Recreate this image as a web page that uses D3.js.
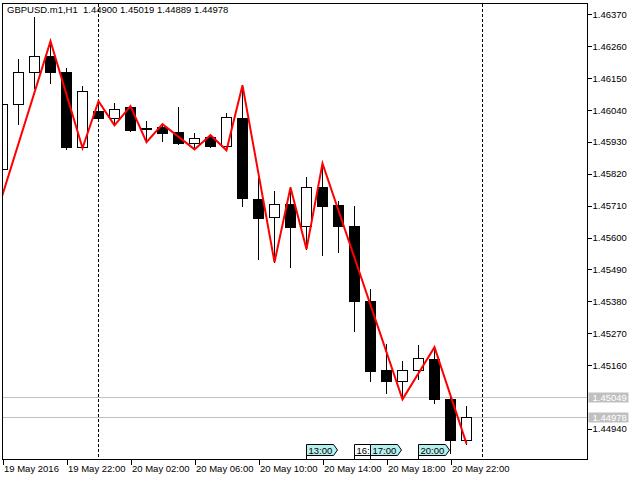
<!DOCTYPE html>
<html>
<head>
    <meta charset="utf-8">
    <title>GBPUSD.m1,H1</title>
    <style type="text/css">
    body { margin: 0; background: #fff; }
    svg text { font-family: "Liberation Sans", Arial, sans-serif; }
    </style>
</head>
<body>

    <script src="https://d3js.org/d3.v7.min.js"></script>
    <script>
      // hourly candles, 19 May 18:00 .. 20 May 23:00
      var hours = ["2016-05-19 18:00", "2016-05-19 19:00", "2016-05-19 20:00", "2016-05-19 21:00", "2016-05-19 22:00",
                   "2016-05-19 23:00", "2016-05-20 00:00", "2016-05-20 01:00", "2016-05-20 02:00", "2016-05-20 03:00",
                   "2016-05-20 04:00", "2016-05-20 05:00", "2016-05-20 06:00", "2016-05-20 07:00", "2016-05-20 08:00",
                   "2016-05-20 09:00", "2016-05-20 10:00", "2016-05-20 11:00", "2016-05-20 12:00", "2016-05-20 13:00",
                   "2016-05-20 14:00", "2016-05-20 15:00", "2016-05-20 16:00", "2016-05-20 17:00", "2016-05-20 18:00",
                   "2016-05-20 19:00", "2016-05-20 20:00", "2016-05-20 21:00", "2016-05-20 22:00", "2016-05-20 23:00"];
      var open  = [1.45836, 1.46060, 1.46170, 1.46225, 1.46170, 1.45911, 1.46036, 1.46011, 1.46049, 1.45977,
                   1.45980, 1.45963, 1.45925, 1.45946, 1.45915, 1.46011, 1.45732, 1.45670, 1.45715, 1.45636,
                   1.45773, 1.45711, 1.45639, 1.45380, 1.45142, 1.45104, 1.45142, 1.45180, 1.45042, 1.44900];
      var high  = [1.46073, 1.46215, 1.46360, 1.46277, 1.46184, 1.46122, 1.46070, 1.46063, 1.46053, 1.46001,
                   1.45991, 1.46049, 1.45960, 1.45953, 1.46029, 1.46125, 1.45805, 1.45760, 1.45773, 1.45808,
                   1.45856, 1.45725, 1.45708, 1.45422, 1.45232, 1.45173, 1.45229, 1.45222, 1.45049, 1.45019];
      var low   = [1.45825, 1.45991, 1.46115, 1.46132, 1.45904, 1.45909, 1.46009, 1.45987, 1.45967, 1.45929,
                   1.45932, 1.45923, 1.45904, 1.45913, 1.45901, 1.45708, 1.45525, 1.45515, 1.45498, 1.45560,
                   1.45539, 1.45549, 1.45277, 1.45104, 1.45063, 1.45042, 1.45111, 1.45029, 1.44856, 1.44889];
      var close = [1.46060, 1.46170, 1.46225, 1.46170, 1.45911, 1.46104, 1.46011, 1.46042, 1.45970, 1.45972,
                   1.45960, 1.45925, 1.45942, 1.45915, 1.46015, 1.45736, 1.45667, 1.45715, 1.45636, 1.45771,
                   1.45708, 1.45639, 1.45380, 1.45139, 1.45104, 1.45142, 1.45184, 1.45042, 1.44900, 1.44978];

      // zigzag pivots
      var zigTimes  = ["2016-05-19 17:00", "2016-05-19 21:00", "2016-05-19 23:00", "2016-05-20 00:00", "2016-05-20 01:00",
                       "2016-05-20 02:00", "2016-05-20 03:00", "2016-05-20 04:00", "2016-05-20 06:00", "2016-05-20 07:00",
                       "2016-05-20 08:00", "2016-05-20 09:00", "2016-05-20 11:00", "2016-05-20 12:00", "2016-05-20 13:00",
                       "2016-05-20 14:00", "2016-05-20 19:00", "2016-05-20 21:00", "2016-05-20 23:00"];
      var zigPrices = [1.45571, 1.46277, 1.45909, 1.46070, 1.45987,
                       1.46053, 1.45929, 1.45991, 1.45904, 1.45953,
                       1.45901, 1.46125, 1.45515, 1.45773, 1.45560,
                       1.45856, 1.45042, 1.45222, 1.44889];

      var priceTicks = [1.46370, 1.46260, 1.46150, 1.46040, 1.45930, 1.45820, 1.45710,
                        1.45600, 1.45490, 1.45380, 1.45270, 1.45160, 1.44940];
      var timeTicks  = ["2016-05-19 18:00", "2016-05-19 22:00", "2016-05-20 02:00", "2016-05-20 06:00",
                        "2016-05-20 10:00", "2016-05-20 14:00", "2016-05-20 18:00", "2016-05-20 22:00"];
      var timeLabels = ["19 May 2016", "19 May 22:00", "20 May 02:00", "20 May 06:00",
                        "20 May 10:00", "20 May 14:00", "20 May 18:00", "20 May 22:00"];
      var daySeparators = ["2016-05-20 00:00", "2016-05-21 00:00"];
      var priceLines = [1.45049, 1.44978];
      var tagTimes  = ["2016-05-20 13:00", "2016-05-20 16:00", "2016-05-20 17:00", "2016-05-20 20:00"];
      // the 16:00 tag is cut short by the 17:00 tag next to it
      var tagLabels = ["13:00", "16:", "17:00", "20:00"];
      var tagFills  = ["#b4f0f0", "#ffffff", "#b4f0f0", "#b4f0f0"];
      var title = "GBPUSD.m1,H1  1.44900 1.45019 1.44889 1.44978";

      var parse = d3.utcParse("%Y-%m-%d %H:%M");
      var W = 640, H = 480;
      var plot = {left: 2.5, right: 587.5, top: 3.5, bottom: 459.5};

      var svg = d3.select("body")
          .append("svg")
          .attr("width", W)
          .attr("height", H)
          .style("display", "block");

      var xScale = d3.scaleUtc()
          .domain([parse("2016-05-19 18:00"), parse("2016-05-20 18:00")])
          .range([2.5, 386.5]);

      var yScale = d3.scaleLinear()
          .domain([1.46370, 1.44940])
          .range([14.3, 428.9]);

      function px(v) { return Math.round(v - 0.5) + 0.5; }

      svg.append("defs").append("clipPath")
          .attr("id", "plotclip")
          .append("rect")
          .attr("x", plot.left)
          .attr("y", plot.top)
          .attr("width", plot.right - plot.left)
          .attr("height", plot.bottom - plot.top);

      var candles = hours.map(function(h, i){
        return {t: parse(h), o: open[i], h: high[i], l: low[i], c: close[i]};
      });

      var body = svg.append("g").attr("clip-path", "url(#plotclip)");

      // day separators
      body.selectAll(".sep")
          .data(daySeparators)
          .enter()
          .append("line")
          .attr("x1", function(d){ return px(xScale(parse(d))); })
          .attr("x2", function(d){ return px(xScale(parse(d))); })
          .attr("y1", plot.top)
          .attr("y2", plot.bottom)
          .attr("stroke", "#000")
          .attr("stroke-dasharray", "3,2")
          .attr("shape-rendering", "crispEdges");

      // bid / ask lines
      body.selectAll(".pline")
          .data(priceLines)
          .enter()
          .append("line")
          .attr("x1", plot.left)
          .attr("x2", plot.right)
          .attr("y1", function(d){ return px(yScale(d)); })
          .attr("y2", function(d){ return px(yScale(d)); })
          .attr("stroke", "#c0c0c0")
          .attr("shape-rendering", "crispEdges");

      // candles
      var cg = body.selectAll(".candle")
          .data(candles)
          .enter()
          .append("g")
          .attr("class", "candle")
          .attr("shape-rendering", "crispEdges");

      cg.append("line")
          .attr("x1", function(d){ return px(xScale(d.t)); })
          .attr("x2", function(d){ return px(xScale(d.t)); })
          .attr("y1", function(d){ return Math.round(yScale(d.h)); })
          .attr("y2", function(d){ return Math.round(yScale(d.l)) + 1; })
          .attr("stroke", "#000");

      cg.append("rect")
          .attr("x", function(d){ return px(xScale(d.t)) - 5; })
          .attr("y", function(d){ return px(yScale(Math.max(d.o, d.c))); })
          .attr("width", 10)
          .attr("height", function(d){ return Math.max(1, Math.round(Math.abs(yScale(d.o) - yScale(d.c)))); })
          .attr("fill", function(d){ return d.c >= d.o ? "#fff" : "#000"; })
          .attr("stroke", "#000");

      // zigzag
      var zig = zigTimes.map(function(t, i){ return {t: parse(t), p: zigPrices[i]}; });
      body.append("path")
          .datum(zig)
          .attr("fill", "none")
          .attr("stroke", "#ff0000")
          .attr("stroke-width", 2)
          .attr("stroke-linejoin", "miter")
          .attr("d", d3.line()
              .x(function(d){ return xScale(d.t); })
              .y(function(d){ return yScale(d.p); }));

      // frame
      svg.append("rect")
          .attr("x", plot.left)
          .attr("y", plot.top)
          .attr("width", plot.right - plot.left)
          .attr("height", plot.bottom - plot.top)
          .attr("fill", "none")
          .attr("stroke", "#000")
          .attr("shape-rendering", "crispEdges");

      // price axis
      var yAxis = svg.append("g")
          .attr("transform", "translate(" + plot.right + ",0)")
          .call(d3.axisRight(yScale).tickValues(priceTicks).tickSize(4).tickPadding(1)
                .tickFormat(d3.format(".5f")));
      yAxis.select(".domain").remove();
      yAxis.selectAll("line").attr("shape-rendering", "crispEdges");
      yAxis.selectAll("text")
          .attr("font-family", "Liberation Sans, Arial, sans-serif")
          .attr("font-size", "9.5px")
          .attr("fill", "#000");

      // current price labels
      var pl = svg.selectAll(".plabel")
          .data(priceLines)
          .enter()
          .append("g")
          .attr("transform", function(d){ return "translate(" + plot.right + "," + px(yScale(d)) + ")"; });
      pl.append("rect")
          .attr("x", 1)
          .attr("y", -5)
          .attr("width", 40)
          .attr("height", 10)
          .attr("fill", "#c0c0c0");
      pl.append("text")
          .attr("x", 5)
          .attr("dy", "0.35em")
          .attr("font-size", "9.5px")
          .attr("fill", "#fff")
          .text(function(d){ return d3.format(".5f")(d); });

      // time axis
      var xAxis = svg.append("g")
          .attr("transform", "translate(0," + plot.bottom + ")")
          .call(d3.axisBottom(xScale).tickValues(timeTicks.map(parse)).tickSize(5).tickPadding(1)
                .tickFormat(function(d, i){ return timeLabels[i]; }));
      xAxis.select(".domain").remove();
      xAxis.selectAll("line").attr("shape-rendering", "crispEdges");
      xAxis.selectAll("text")
          .attr("text-anchor", "start")
          .attr("x", 1)
          .attr("font-family", "Liberation Sans, Arial, sans-serif")
          .attr("font-size", "9.5px")
          .attr("fill", "#000");

      // vertical line tags on the time scale
      var tags = svg.selectAll(".tag")
          .data(tagTimes)
          .enter()
          .append("g")
          .attr("transform", function(d){ return "translate(" + px(xScale(parse(d))) + ",0)"; })
          .attr("shape-rendering", "crispEdges");
      tags.append("line")
          .attr("x1", 0).attr("x2", 0)
          .attr("y1", 455).attr("y2", plot.bottom)
          .attr("stroke", "#000");
      tags.append("path")
          .attr("d", "M0,444.5 H27 L31,450 L27,455.5 H0 Z")
          .attr("fill", function(d, i){ return tagFills[i]; })
          .attr("stroke", "#000")
          .attr("shape-rendering", "auto");
      tags.append("text")
          .attr("x", 2)
          .attr("y", 453.5)
          .attr("font-size", "9.5px")
          .attr("fill", "#000")
          .text(function(d, i){ return tagLabels[i]; });

      // header
      svg.append("text")
          .attr("x", 7)
          .attr("y", 13)
          .attr("font-size", "9.5px")
          .attr("fill", "#000")
          .style("white-space", "pre")
          .text(title);
    </script>
</body>
</html>
